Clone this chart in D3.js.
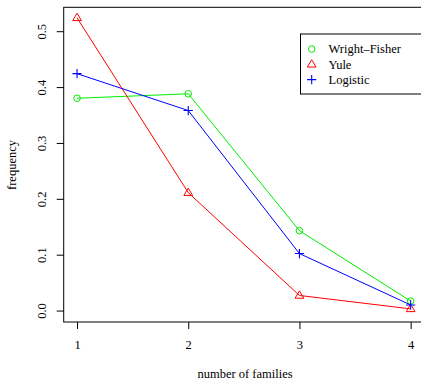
<!DOCTYPE html>
<html><head><meta charset="utf-8">
<script src="https://cdn.jsdelivr.net/npm/d3@7"></script>
<style>body{margin:0;background:#fff}svg{display:block}text{font-family:"Liberation Serif","Times New Roman",serif;fill:#000}</style>
</head><body><svg id="c" width="421" height="381"></svg>
<script>
const families = [1, 2, 3, 4];
const wrightFisher = [0.380, 0.388, 0.143, 0.017];
const yule = [0.524, 0.211, 0.027, 0.003];
const logistic = [0.424, 0.358, 0.102, 0.010];
const yTicks = [0.0, 0.1, 0.2, 0.3, 0.4, 0.5];
const seriesNames = ["Wright\u2013Fisher", "Yule", "Logistic"];
const seriesColors = ["#00ee00", "#ff0000", "#0000ff"];
const seriesShapes = ["circle", "triangle", "plus"];
const seriesData = [wrightFisher, yule, logistic];
const FS = 12.5;

const svg = d3.select("#c");
const x = d3.scaleLinear().domain([0.88, 4.12]).range([63.7, 424]);
const y = d3.scaleLinear().domain([-0.0205, 0.5428]).range([322, 7.3]);

svg.append("rect").attr("x", x(0.88)).attr("y", y(0.5428)).attr("width", x(4.12) - x(0.88)).attr("height", y(-0.0205) - y(0.5428))
  .attr("fill", "none").attr("stroke", "#000").attr("stroke-width", 1);

const xAxis = d3.axisBottom(x).tickValues(families).tickFormat(d3.format("d")).tickSize(7).tickPadding(11);
const gx = svg.append("g").attr("transform", "translate(0,322)").call(xAxis);
gx.select(".domain").remove();
gx.selectAll("text").attr("font-size", FS);

const yAxis = d3.axisLeft(y).tickValues(yTicks).tickFormat(d3.format(".1f")).tickSize(7);
const gy = svg.append("g").attr("transform", "translate(63.7,0)").call(yAxis);
gy.select(".domain").remove();
gy.selectAll("text").attr("font-size", FS).attr("text-anchor", "middle")
  .attr("x", null)
  .attr("transform", "translate(-22,0) rotate(-90)").attr("dy", "0.35em");

svg.append("text").attr("x", 245).attr("y", 378).attr("text-anchor", "middle").attr("font-size", FS).text("number of families");
svg.append("text").attr("transform", "translate(16,165) rotate(-90)").attr("text-anchor", "middle").attr("font-size", FS).text("frequency");

function drawShape(g, shape, color, cx, cy) {
  if (shape === "circle") {
    g.append("circle").attr("cx", cx).attr("cy", cy).attr("r", 3.3).attr("fill", "none").attr("stroke", color).attr("stroke-width", 1);
  } else if (shape === "triangle") {
    const s = 4.6;
    g.append("path").attr("d", `M${cx},${cy - s}L${cx + s * 0.95},${cy + s * 0.6}L${cx - s * 0.95},${cy + s * 0.6}Z`)
      .attr("fill", "none").attr("stroke", color).attr("stroke-width", 1);
  } else {
    const s = 4.6;
    g.append("path").attr("d", `M${cx - s},${cy}H${cx + s}M${cx},${cy - s}V${cy + s}`).attr("stroke", color).attr("stroke-width", 1.1);
  }
}

const line = d3.line().x((d, i) => x(families[i])).y(d => y(d));
seriesData.forEach((vals, k) => {
  const g = svg.append("g");
  g.append("path").attr("d", line(vals)).attr("fill", "none").attr("stroke", seriesColors[k]).attr("stroke-width", 1);
  vals.forEach((v, i) => drawShape(g, seriesShapes[k], seriesColors[k], x(families[i]), y(v)));
});

const lg = svg.append("g");
lg.append("rect").attr("x", 300.5).attr("y", 34).attr("width", 130).attr("height", 60).attr("fill", "#fff").attr("stroke", "#000").attr("stroke-width", 1);
seriesNames.forEach((n, k) => {
  const cy = 49 + k * 15.3;
  drawShape(lg, seriesShapes[k], seriesColors[k], 311.7, cy);
  lg.append("text").attr("x", 328.5).attr("y", cy).attr("dy", "0.35em").attr("font-size", FS).text(n);
});
</script></body></html>
